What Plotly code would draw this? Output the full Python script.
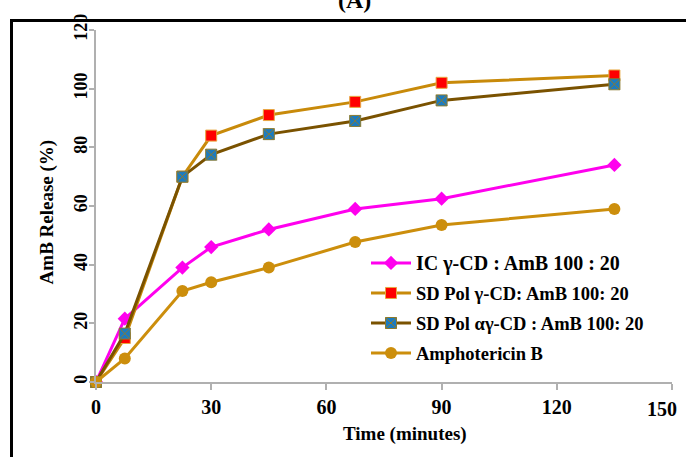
import plotly.graph_objects as go

time_min = [0, 7.5, 22.5, 30, 45, 67.5, 90, 135]
ic_gcd = [0, 21.6, 39, 46, 52, 59, 62.5, 74]
sd_pol_gcd = [0, 15, 70, 84, 91, 95.5, 102, 104.5]
sd_pol_agcd = [0, 16.5, 70, 77.5, 84.5, 89, 96, 101.5]
amphotericin_b = [0, 8, 31, 34, 39, 47.7, 53.5, 59]

names = [
    "<span style='font-size:20px'>IC γ-CD : AmB 100 : 20</span>",
    "SD Pol γ-CD: AmB 100: 20",
    "SD Pol αγ-CD : AmB 100: 20",
    "Amphotericin B",
]
x_ticks = [0, 30, 60, 90, 120, 150]
x_ticktext = ["0", "30", "60", "90", "120", ""]
y_ticks = [0, 20, 40, 60, 80, 100, 120]

SERIF = "Liberation Serif, Times New Roman, serif"

fig = go.Figure()
fig.add_trace(go.Scatter(
    x=time_min, y=ic_gcd, name=names[0], mode="lines+markers",
    line=dict(color="#FF00EE", width=3),
    marker=dict(symbol="diamond", size=11, color="#FF00EE"),
    cliponaxis=False, legendgroup="a"))
fig.add_trace(go.Scatter(
    x=time_min, y=sd_pol_gcd, name=names[1], mode="lines+markers",
    line=dict(color="#C88A0A", width=3),
    marker=dict(symbol="square", size=11, color="#FF0000",
                line=dict(color="#E8A840", width=1)),
    cliponaxis=False, legendgroup="b"))
fig.add_trace(go.Scatter(
    x=time_min, y=sd_pol_agcd, name=names[2], mode="lines+markers",
    line=dict(color="#7A5200", width=3),
    marker=dict(symbol="square-x", size=11, color="#1B7BC0",
                line=dict(color="#8A7A30", width=1)),
    cliponaxis=False, legendgroup="c"))
fig.add_trace(go.Scatter(
    x=time_min, y=amphotericin_b, name=names[3], mode="lines+markers",
    line=dict(color="#CC8E0C", width=3),
    marker=dict(symbol="circle", size=12, color="#CC8E0C"),
    cliponaxis=False, legendgroup="d"))

W, H = 686, 457
L, R, T, B = 96, 14, 29.5, 75.3
pw, ph = W - L - R, H - T - B

def px_x(p):
    return (p - L) / pw

def px_y(p):
    return (H - B - p) / ph

fig.update_layout(
    width=W, height=H,
    margin=dict(l=L, r=R, t=T, b=B),
    paper_bgcolor="white", plot_bgcolor="white",
    showlegend=True,
    legend=dict(
        x=px_x(366), y=px_y(244), xanchor="left", yanchor="top",
        bgcolor="rgba(0,0,0,0)", borderwidth=0,
        font=dict(family=SERIF, size=18.5, color="black", weight="bold"),
        tracegroupgap=3, itemwidth=40,
    ),
    xaxis=dict(
        range=[0, 150], tickvals=x_ticks, ticktext=x_ticktext,
        showgrid=False, zeroline=False,
        showline=True, linecolor="#B0B0B0", linewidth=1.5,
        ticks="outside", ticklen=6, tickcolor="#B0B0B0", tickwidth=1.5,
        tickfont=dict(family=SERIF, size=20, color="black", weight="bold"),
    ),
    yaxis=dict(
        range=[0, 120], tickvals=y_ticks, showgrid=False, zeroline=False,
        showline=True, linecolor="#B0B0B0", linewidth=1.5,
        ticks="outside", ticklen=5, tickcolor="#B0B0B0", tickwidth=1.5,
        tickangle=-90, ticklabelstandoff=-5,
        tickfont=dict(family=SERIF, size=18, color="black", weight="bold"),
    ),
    annotations=[
        dict(text="150", xref="x", yref="paper", x=x_ticks[-1], y=0,
             xshift=-10, yshift=-27, showarrow=False,
             xanchor="center", yanchor="middle",
             font=dict(family=SERIF, size=20, color="black", weight="bold")),
        dict(text="Time (minutes)", xref="paper", yref="paper",
             x=px_x(405), y=px_y(434), showarrow=False,
             xanchor="center", yanchor="middle",
             font=dict(family=SERIF, size=19, color="black", weight="bold")),
        dict(text="AmB Release (%)", xref="paper", yref="paper",
             x=px_x(47), y=px_y(212), showarrow=False, textangle=-90,
             xanchor="center", yanchor="middle",
             font=dict(family=SERIF, size=19, color="black", weight="bold")),
        dict(text="(A)", xref="paper", yref="paper",
             x=px_x(354), y=px_y(14), showarrow=False,
             xanchor="center", yanchor="bottom",
             font=dict(family=SERIF, size=24, color="black", weight="bold")),
    ],
    shapes=[
        dict(type="rect", xref="paper", yref="paper",
             x0=px_x(11.5), x1=px_x(700), y0=px_y(470), y1=px_y(20),
             line=dict(color="black", width=3), fillcolor="rgba(0,0,0,0)",
             layer="below"),
    ],
)

fig.write_html("out.html", config={"displayModeBar": False},
               post_script="document.body.style.margin='0';")
